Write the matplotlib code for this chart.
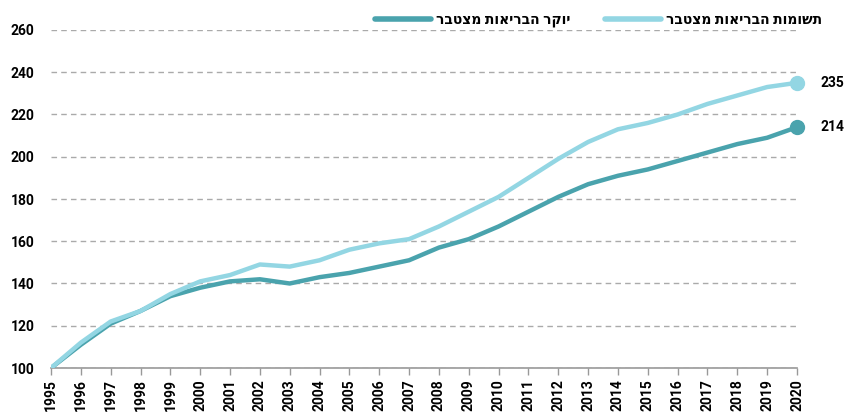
import numpy as np
import matplotlib.pyplot as plt

# data
years = list(range(1995, 2021))
inputs_cum = [100, 112, 122, 127, 135, 141, 144, 149, 148, 151, 156, 159, 161,
              167, 174, 181, 190, 199, 207, 213, 216, 220, 225, 229, 233, 235]
cost_cum = [100, 111, 121, 127, 134, 138, 141, 142, 140, 143, 145, 148, 151,
            157, 161, 167, 174, 181, 187, 191, 194, 198, 202, 206, 209, 214]
label_inputs = 'תשומות הבריאות מצטבר'
label_cost = 'יוקר הבריאות מצטבר'
yticks = [100, 120, 140, 160, 180, 200, 220, 240, 260]

c_dark = '#4aa3ad'
c_light = '#93d6e3'
fam = ['Roboto', 'DejaVu Sans']

fig = plt.figure(figsize=(8.51, 4.19), dpi=100)
ax = fig.add_axes([51 / 851, 1 - 368 / 419, (797 - 51) / 851, (368 - 30) / 419])

# matplotlib has no bidi support, so hand it the Hebrew in visual order
def vis(s):
    return s[::-1]

ax.plot(years, cost_cum, color=c_dark, lw=3.2, solid_capstyle='round', zorder=3,
        label=vis(label_cost))
ax.plot(years, inputs_cum, color=c_light, lw=3.2, solid_capstyle='round', zorder=4,
        label=vis(label_inputs))
ax.plot(years[-1], cost_cum[-1], 'o', color=c_dark, ms=10, zorder=5, clip_on=False)
ax.plot(years[-1], inputs_cum[-1], 'o', color=c_light, ms=10, zorder=5, clip_on=False)
ax.annotate(str(cost_cum[-1]), (years[-1], cost_cum[-1]), xytext=(17, 0),
            textcoords='offset points', va='center', ha='left', fontsize=10,
            fontweight='bold', family=fam)
ax.annotate(str(inputs_cum[-1]), (years[-1], inputs_cum[-1]), xytext=(17, 0),
            textcoords='offset points', va='center', ha='left', fontsize=10,
            fontweight='bold', family=fam)

ax.set_xlim(1995, 2020)
ax.set_ylim(100, 260)
ax.set_yticks(yticks)
ax.set_xticks(years)
ax.set_xticklabels([str(y) for y in years], rotation=90, fontsize=10,
                   fontweight='bold', family=fam)
ax.set_yticklabels([str(v) for v in yticks], fontsize=10, fontweight='bold', family=fam)
ax.tick_params(axis='y', length=0, pad=12)
ax.tick_params(axis='x', length=5, color='#999999', width=1, pad=3)

for s in ['top', 'right', 'left']:
    ax.spines[s].set_visible(False)
ax.spines['bottom'].set_color('#999999')
ax.spines['bottom'].set_linewidth(1.2)
ax.grid(axis='y', ls=(0, (4, 3)), color='#aaaaaa', lw=1)
ax.set_axisbelow(True)

leg = fig.legend(loc='upper right', bbox_to_anchor=(835 / 851, 1.0), ncol=2,
                 frameon=False, handlelength=4.0, handletextpad=0.4, columnspacing=2.5,
                 prop={'family': fam, 'weight': 'bold', 'size': 10})
for h in leg.get_lines():
    h.set_linewidth(4)
    h.set_solid_capstyle('round')

fig.savefig('out.png', dpi=100)
